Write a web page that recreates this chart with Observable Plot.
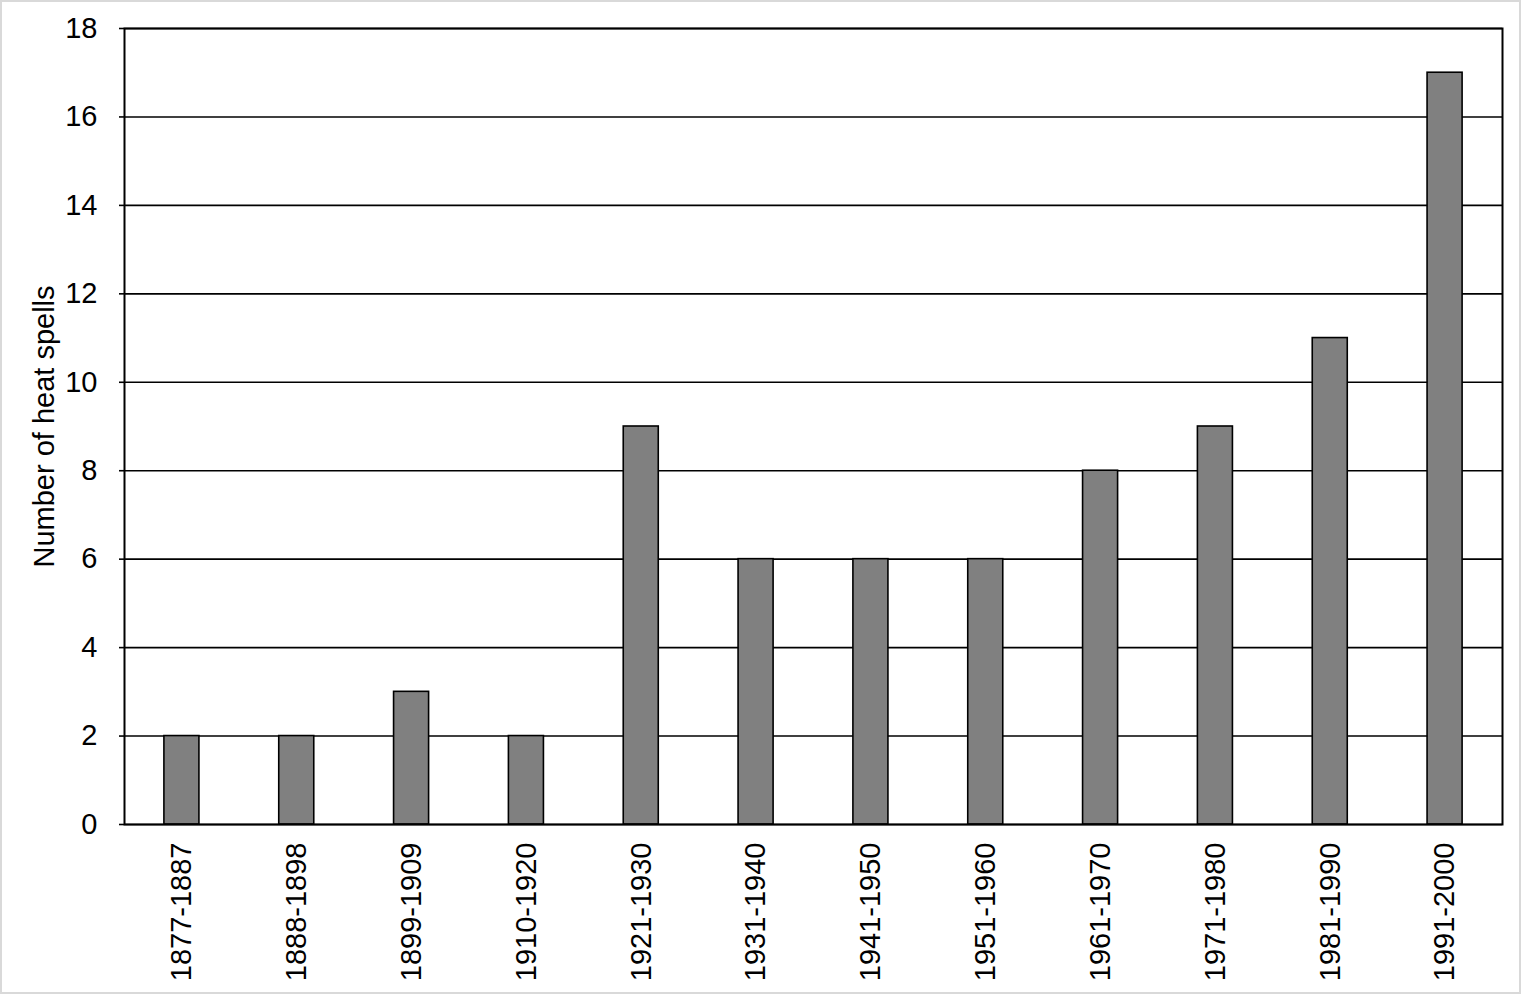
<!DOCTYPE html>
<html>
<head>
<meta charset="utf-8">
<script src="https://cdn.jsdelivr.net/npm/d3@7"></script>
<script src="https://cdn.jsdelivr.net/npm/@observablehq/plot@0.6"></script>
<style>
  html, body { margin: 0; padding: 0; background: #fff; }
  #wrap { width: 1521px; height: 994px; box-sizing: border-box; border: 2px solid #d9d9d9; overflow: hidden; background: #fff; }
  #wrap svg { display: block; }
</style>
</head>
<body>
<div id="wrap"></div>
<script>
const periods = ["1877-1887","1888-1898","1899-1909","1910-1920","1921-1930","1931-1940","1941-1950","1951-1960","1961-1970","1971-1980","1981-1990","1991-2000"];
const heatSpells = [2, 2, 3, 2, 9, 6, 6, 6, 8, 9, 11, 17];
const yTicks = [0, 2, 4, 6, 8, 10, 12, 14, 16, 18];
const yLabel = "Number of heat spells";

const data = periods.map((p, i) => ({period: p, value: heatSpells[i]}));

const chart = Plot.plot({
  width: 1517,
  height: 990,
  marginLeft: 122,
  marginRight: 17,
  marginTop: 26,
  marginBottom: 168,
  style: {fontFamily: "'Liberation Sans', Arial, sans-serif", fontSize: "29px", color: "#000", background: "#fff"},
  x: {domain: periods, paddingInner: 0.695, paddingOuter: 0.3475, align: 0.5, round: false, label: null},
  y: {domain: [0, 18], label: yLabel},
  marks: [
    Plot.gridY(yTicks, {stroke: "#000", strokeOpacity: 1, strokeWidth: 1.6}),
    Plot.barY(data, {x: "period", y: "value", fill: "#808080", stroke: "#000", strokeWidth: 1.6}),
    Plot.frame({stroke: "#000", strokeWidth: 2}),
    Plot.axisY(yTicks, {tickSize: 5, tickPadding: 22, stroke: "#000", strokeWidth: 1.6, label: yLabel, labelAnchor: "center", labelArrow: "none", labelOffset: 91, fontSize: 29}),
    Plot.axisX({tickSize: 0, tickPadding: 18, tickRotate: -90, label: null, fontSize: 29})
  ]
});
document.getElementById("wrap").appendChild(chart);
</script>
</body>
</html>
